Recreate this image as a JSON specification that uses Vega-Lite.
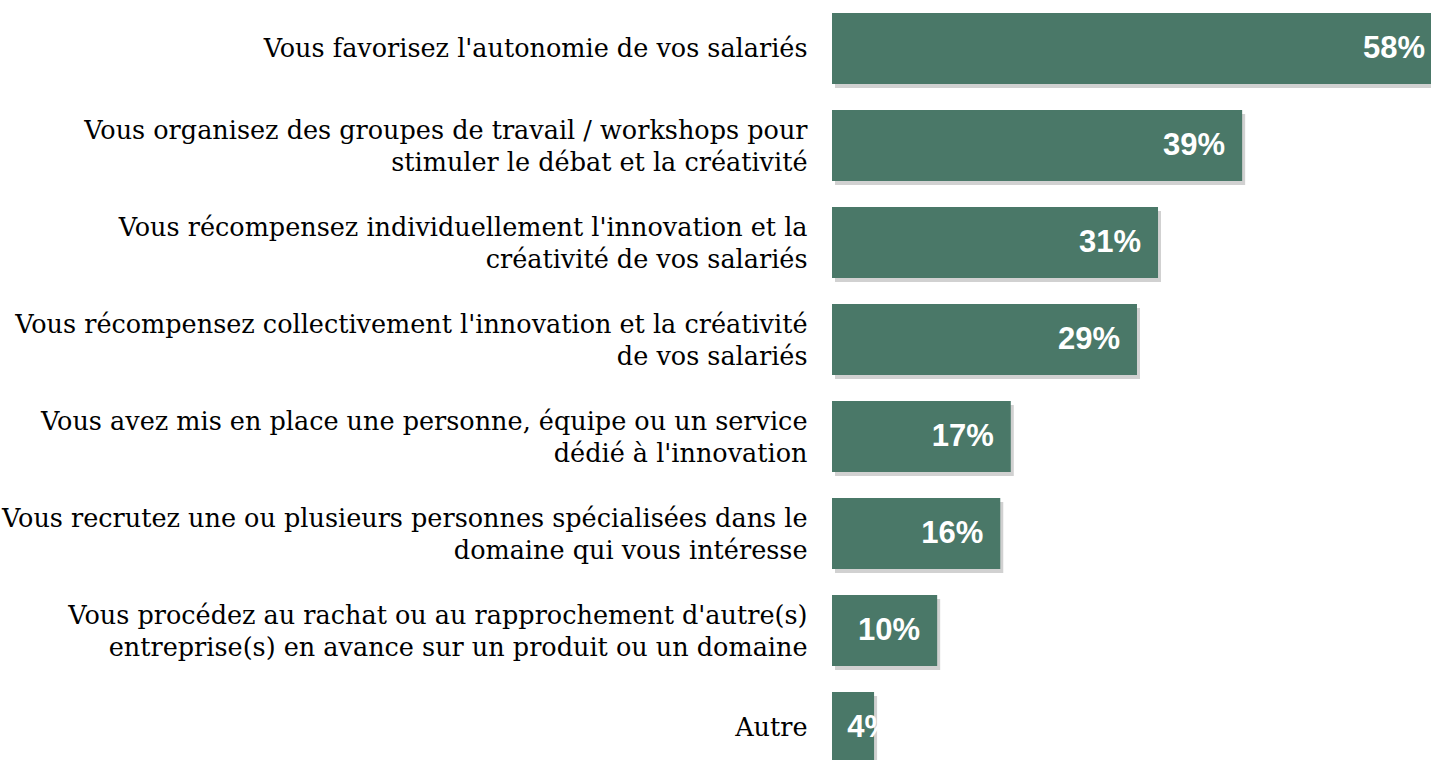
{
  "$schema": "https://vega.github.io/schema/vega-lite/v6.json",
  "autosize": "none",
  "width": 631,
  "height": 776,
  "padding": {"left": 832, "top": 0, "right": 0, "bottom": 0},
  "background": "white",
  "config": {"view": {"stroke": null}},
  "data": {
    "values": [
      {"item": "Vous favorisez l'autonomie de vos salariés", "value": 0.58},
      {"item": "Vous organisez des groupes de travail / workshops pour|stimuler le débat et la créativité", "value": 0.39},
      {"item": "Vous récompensez individuellement l'innovation et la|créativité de vos salariés", "value": 0.31},
      {"item": "Vous récompensez collectivement l'innovation et la créativité|de vos salariés", "value": 0.29},
      {"item": "Vous avez mis en place une personne, équipe ou un service|dédié à l'innovation", "value": 0.17},
      {"item": "Vous recrutez une ou plusieurs personnes spécialisées dans le|domaine qui vous intéresse", "value": 0.16},
      {"item": "Vous procédez au rachat ou au rapprochement d'autre(s)|entreprise(s) en avance sur un produit ou un domaine", "value": 0.10},
      {"item": "Autre", "value": 0.04}
    ]
  },
  "encoding": {
    "y": {
      "field": "item",
      "type": "nominal",
      "sort": null,
      "scale": {"paddingInner": 0.268, "paddingOuter": 0.134},
      "axis": {
        "title": null,
        "domain": false,
        "ticks": false,
        "labelExpr": "split(datum.label, '|')",
        "labelFont": "DejaVu Serif",
        "labelFontSize": 25.5,
        "labelColor": "#000000",
        "labelPadding": 25,
        "labelLimit": 0,
        "labelAlign": "right",
        "labelBaseline": "middle",
        "labelLineHeight": 32,
        "labelOffset": {"condition": {"test": "indexof(datum.value, '|') >= 0", "value": -15}, "value": 0}
      }
    },
    "x": {
      "field": "value",
      "type": "quantitative",
      "scale": {"domain": [0, 0.6]},
      "axis": null
    }
  },
  "layer": [
    {"mark": {"type": "bar", "color": "#8c8c8c", "opacity": 0.4, "xOffset": 3, "x2Offset": 3, "yOffset": 4, "y2Offset": 4}},
    {"mark": {"type": "bar", "color": "#4a7868"}},
    {
      "transform": [{"filter": "datum.value >= 0.05"}],
      "mark": {"type": "text", "align": "right", "baseline": "middle", "dx": -17, "font": "Liberation Sans", "fontWeight": "bold", "fontSize": 31, "color": "#ffffff"},
      "encoding": {"text": {"field": "value", "type": "quantitative", "format": ".0%"}}
    },
    {
      "transform": [{"filter": "datum.value < 0.05"}],
      "mark": {"type": "text", "align": "right", "baseline": "middle", "dx": 18, "font": "Liberation Sans", "fontWeight": "bold", "fontSize": 31, "color": "#ffffff"},
      "encoding": {"text": {"field": "value", "type": "quantitative", "format": ".0%"}}
    }
  ]
}
